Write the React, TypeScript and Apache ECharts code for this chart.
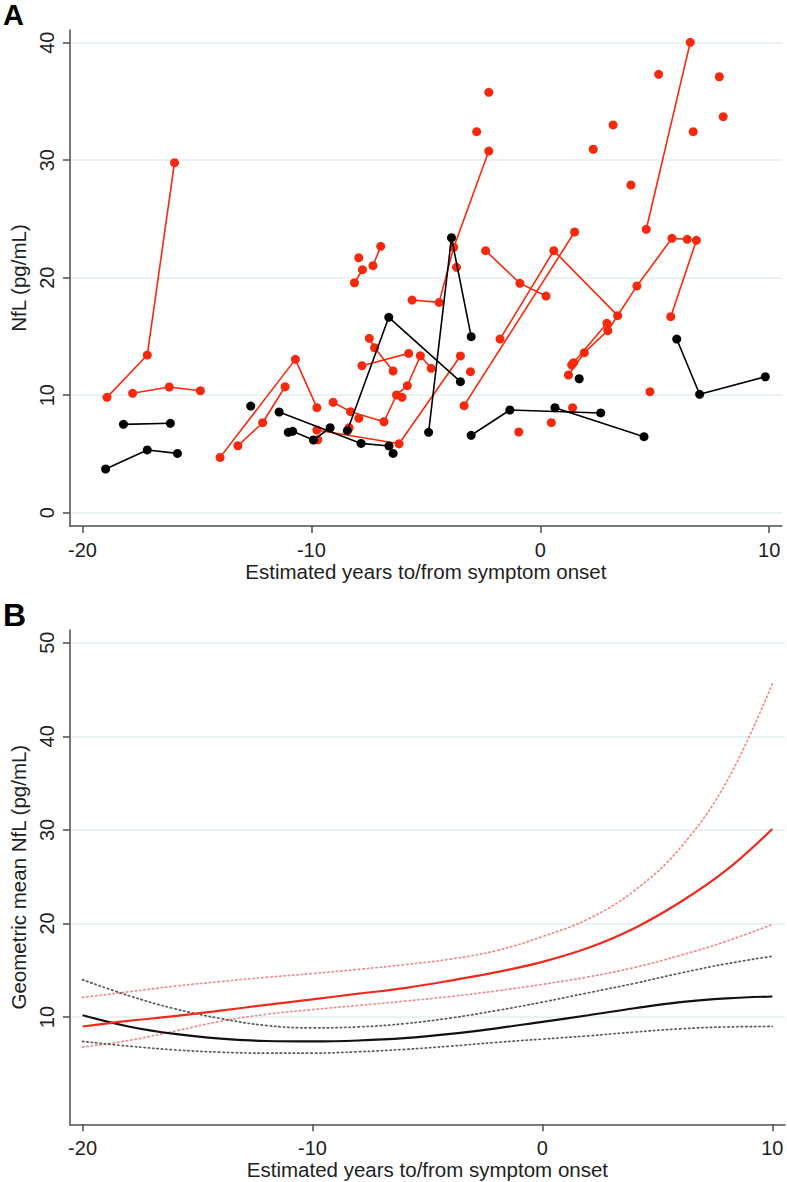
import React, { useEffect, useRef } from "react";
import * as echarts from "echarts";

type Pt = [number, number];

// ---------- Tick values ----------
const xTicks = [-20, -10, 0, 10];
const yTicksA = [0, 10, 20, 30, 40];
const yTicksB = [10, 20, 30, 40, 50];

// ---------- Panel A: individual longitudinal NfL values ----------
const redSubjects: Pt[][] = [
  [[-18.93, 9.82], [-17.17, 13.42], [-15.98, 29.79]],
  [[-17.81, 10.16], [-16.21, 10.7], [-14.85, 10.38]],
  [[-13.99, 4.71], [-10.7, 13.05], [-9.76, 8.94]],
  [[-13.21, 5.7], [-12.13, 7.66], [-11.15, 10.72]],
  [[-8.12, 19.57], [-7.77, 20.68]],
  [[-7.31, 21.02], [-6.97, 22.67]],
  [[-9.76, 7.04], [-6.17, 5.87], [-3.49, 13.34]],
  [[-9.05, 9.4], [-8.29, 8.6], [-6.83, 7.74], [-6.28, 10.02], [-5.81, 10.81], [-5.24, 13.36], [-4.77, 12.29]],
  [[-7.79, 12.51], [-5.75, 13.56]],
  [[-7.47, 14.84], [-7.24, 14.04], [-6.43, 12.06]],
  [[-5.6, 18.1], [-4.42, 17.9], [-3.78, 22.59], [-2.25, 30.78]],
  [[-2.39, 22.3], [-0.89, 19.52], [0.25, 18.44]],
  [[-3.33, 9.11], [1.5, 23.89]],
  [[-1.76, 14.78], [0.59, 22.3], [3.38, 16.77]],
  [[1.23, 11.72], [1.92, 13.62], [2.95, 15.49], [4.22, 19.3], [5.75, 23.35], [6.42, 23.27]],
  [[1.37, 12.57], [2.91, 16.12]],
  [[5.7, 16.68], [6.82, 23.18]],
  [[4.63, 24.12], [6.55, 40.03]],
];

const redSingles: Pt[] = [
  [-7.93, 21.7], [-7.93, 8.03], [-6.04, 9.82], [-8.35, 7.23], [-9.72, 6.2],
  [-3.66, 20.88], [-3.05, 12.0], [-2.78, 32.43], [-2.25, 35.78], [-0.94, 6.87],
  [0.48, 7.66], [1.41, 8.94], [4.79, 10.3], [1.45, 12.77], [2.31, 30.93],
  [3.18, 33.0], [3.96, 27.89], [5.17, 37.31], [7.82, 37.1], [7.99, 33.7], [6.68, 32.43],
];

const blackSubjects: Pt[][] = [
  [[-18.99, 3.72], [-17.17, 5.34], [-15.85, 5.05]],
  [[-18.21, 7.52], [-16.16, 7.61]],
  [[-11.41, 8.57], [-7.83, 5.9], [-6.61, 5.68]],
  [[-11.01, 6.84], [-10.82, 6.93], [-9.91, 6.19], [-9.18, 7.23]],
  [[-8.43, 6.98], [-6.62, 16.63], [-3.49, 11.15]],
  [[-4.88, 6.84], [-3.88, 23.4], [-3.02, 14.98]],
  [[-3.02, 6.59], [-1.33, 8.74], [2.64, 8.49]],
  [[0.64, 8.94], [4.53, 6.47]],
  [[5.96, 14.78], [6.96, 10.08], [9.83, 11.57]],
];

const blackSingles: Pt[] = [[-12.65, 9.08], [-6.43, 5.05], [1.7, 11.4]];

// ---------- Panel B: modelled geometric mean NfL with 95% CI ----------
const yearsB = [-20, -18, -16, -14, -12, -10, -8, -6, -4, -2, 0, 2, 4, 6, 8, 10];
const redMean = [9.0, 9.6, 10.1, 10.7, 11.3, 11.9, 12.5, 13.1, 13.9, 14.8, 15.9, 17.4, 19.5, 22.3, 25.7, 30.1];
const redUpper = [12.1, 12.7, 13.3, 13.8, 14.25, 14.65, 15.1, 15.6, 16.2, 17.1, 18.6, 20.5, 23.5, 28.1, 35.1, 45.6];
const redLower = [6.8, 7.5, 8.5, 9.55, 10.3, 10.8, 11.25, 11.7, 12.2, 12.8, 13.5, 14.3, 15.3, 16.6, 18.1, 19.9];
const blackMean = [10.2, 9.0, 8.2, 7.7, 7.45, 7.4, 7.5, 7.75, 8.2, 8.8, 9.5, 10.2, 10.95, 11.6, 12.0, 12.2];
const blackUpper = [14.0, 12.3, 10.9, 9.85, 9.1, 8.85, 8.95, 9.3, 9.9, 10.7, 11.6, 12.6, 13.6, 14.7, 15.7, 16.5];
const blackLower = [7.4, 6.9, 6.5, 6.25, 6.15, 6.15, 6.3, 6.55, 6.9, 7.3, 7.65, 8.0, 8.4, 8.75, 8.95, 9.0];

const RED = "#f7290d";
const BLACK = "#000000";
const FONT = "Liberation Sans, Arial, Helvetica, sans-serif";

export default function App() {
  const ref = useRef<HTMLDivElement>(null);

  useEffect(() => {
    document.body.style.margin = "0";
    if (!ref.current) return;
    const chart = echarts.init(ref.current, undefined, { renderer: "svg" });

    const axisLine = { color: "#4d4d4d", width: 1.5 };
    const gridLine = { color: "#e5eef0", width: 1.6 };
    const tickLabel = { fontSize: 20, color: "#1e1e1e", fontFamily: FONT };
    const nameStyle = { fontSize: 20.5, color: "#1e1e1e", fontFamily: FONT };

    const mkX = (gi: number) => ({
      type: "value",
      gridIndex: gi,
      min: -20.55,
      max: 10.55,
      axisLine: { show: true, onZero: false, lineStyle: axisLine },
      axisTick: { show: true, length: 7, lineStyle: axisLine, customValues: xTicks },
      axisLabel: { ...tickLabel, margin: 14, customValues: xTicks },
      splitLine: { show: false },
      name: "Estimated years to/from symptom onset",
      nameLocation: "middle",
      nameGap: 35,
      nameTextStyle: nameStyle,
    });

    const mkY = (gi: number, min: number, max: number, ticks: number[], name: string) => ({
      type: "value",
      gridIndex: gi,
      min,
      max,
      axisLine: { show: true, onZero: false, lineStyle: axisLine },
      axisTick: { show: true, length: 7, lineStyle: axisLine, customValues: ticks },
      axisLabel: { ...tickLabel, rotate: 90, margin: 13, customValues: ticks },
      splitLine: { show: true, lineStyle: gridLine },
      name,
      nameLocation: "middle",
      nameGap: 34,
      nameTextStyle: nameStyle,
    });

    const subjectSeries = (subs: Pt[][], color: string, z: number) =>
      subs.map((s) => ({
        type: "line",
        xAxisIndex: 0,
        yAxisIndex: 0,
        data: s,
        symbol: "circle",
        symbolSize: 9,
        showSymbol: true,
        lineStyle: { color, width: 1.6 },
        itemStyle: { color, opacity: 1 },
        silent: true,
        z,
      }));

    const singleSeries = (pts: Pt[], color: string, z: number) => ({
      type: "scatter",
      xAxisIndex: 0,
      yAxisIndex: 0,
      data: pts,
      symbol: "circle",
      symbolSize: 9,
      itemStyle: { color, opacity: 1 },
      silent: true,
      z,
    });

    const curve = (ys: number[], color: string, width: number, dotted: boolean, z: number) => ({
      type: "line",
      xAxisIndex: 1,
      yAxisIndex: 1,
      data: yearsB.map((x, i) => [x, ys[i]]),
      smooth: 0.4,
      showSymbol: false,
      symbol: "none",
      lineStyle: dotted
        ? { color, width: 1.7, type: [1.4, 3.0], cap: "round" }
        : { color, width },
      silent: true,
      z,
    });

    const option: any = {
      animation: false,
      backgroundColor: "#ffffff",
      grid: [
        { left: 58.3, top: 30, width: 723.5, height: 496, containLabel: false },
        { left: 60, top: 630, width: 725, height: 494.3, containLabel: false },
      ],
      xAxis: [mkX(0), mkX(1)],
      yAxis: [
        mkY(0, -1.13, 41.08, yTicksA, "NfL (pg/mL)"),
        mkY(1, -1.45, 51.35, yTicksB, "Geometric mean NfL (pg/mL)"),
      ],
      graphic: [
        {
          type: "text",
          x: 3,
          y: 15,
          style: { text: "A", font: `bold 29px ${FONT}`, fill: "#000", verticalAlign: "middle" },
        },
        {
          type: "text",
          x: 3,
          y: 615,
          style: { text: "B", font: `bold 32px ${FONT}`, fill: "#000", verticalAlign: "middle" },
        },
      ],
      series: [
        ...subjectSeries(redSubjects, RED, 2),
        singleSeries(redSingles, RED, 2),
        ...subjectSeries(blackSubjects, BLACK, 3),
        singleSeries(blackSingles, BLACK, 3),
        curve(redUpper, "#f28a8a", 1.7, true, 2),
        curve(redLower, "#f28a8a", 1.7, true, 2),
        curve(blackUpper, "#5a5a5a", 1.7, true, 2),
        curve(blackLower, "#5a5a5a", 1.7, true, 2),
        curve(blackMean, "#111111", 2.2, false, 3),
        curve(redMean, "#ee2a1c", 2.2, false, 4),
      ],
    };

    chart.setOption(option);
    return () => chart.dispose();
  }, []);

  return (
    <div
      ref={ref}
      style={{ position: "absolute", left: 0, top: 0, width: 787, height: 1182, background: "#fff" }}
    />
  );
}
